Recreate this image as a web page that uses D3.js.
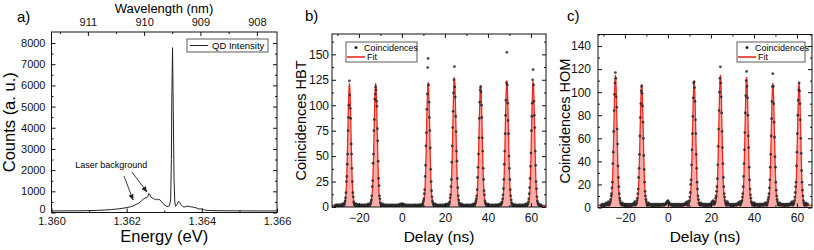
<!DOCTYPE html>
<html>
<head>
<meta charset="utf-8">
<script src="https://cdn.jsdelivr.net/npm/d3@7"></script>
<style>
  body { margin: 0; background: #fff; }
  svg { display: block; font-family: "Liberation Sans", Arial, sans-serif; }
</style>
</head>
<body>
<svg id="chart" width="814" height="250"></svg>
<script>
const hc = 1239.842; // eV*nm, for the wavelength axis

// ---- a) QD spectrum ----
const energy = [1.3600, 1.3603, 1.3606, 1.3609, 1.3612, 1.3614, 1.3616, 1.3618, 1.3620, 1.3621,
  1.3622, 1.36225, 1.3623, 1.36235, 1.3624, 1.36245, 1.3625, 1.36253, 1.36256, 1.36259,
  1.36262, 1.36265, 1.36268, 1.36272, 1.36276, 1.3628, 1.36284, 1.36288, 1.36292, 1.36296,
  1.3630, 1.36305, 1.3631, 1.36314, 1.36317, 1.36319, 1.3632, 1.36322, 1.36324, 1.36326,
  1.36328, 1.3633, 1.36334, 1.36338, 1.36341, 1.36345, 1.3635, 1.36355, 1.3636, 1.36365,
  1.3637, 1.36378, 1.36385, 1.3639, 1.36395, 1.3640, 1.36405, 1.3641, 1.3642, 1.3644,
  1.3647, 1.3650, 1.3655, 1.3660];
const counts = [75, 78, 80, 85, 100, 115, 140, 175, 230, 270,
  330, 380, 420, 480, 560, 640, 700, 680, 760, 900,
  830, 720, 680, 660, 600, 640, 600, 610, 520, 440,
  360, 300, 280, 320, 600, 2500, 5200, 7780, 4800, 1600,
  500, 290, 380, 520, 480, 360, 270, 260, 300, 290,
  270, 250, 220, 180, 160, 170, 130, 110, 95, 85,
  80, 78, 75, 74];
const energyTicks = [1.360, 1.362, 1.364, 1.366];
const energyMinor = [1.361, 1.363, 1.365];
const countTicks = [0, 1000, 2000, 3000, 4000, 5000, 6000, 7000, 8000];
const countMinor = [500, 1500, 2500, 3500, 4500, 5500, 6500, 7500];
const wavelengthTicks = [911, 910, 909, 908];
const wavelengthMinor = [911.5, 910.5, 909.5, 908.5];
const laserNote = { text: 'Laser background', e: 1.36063, c: 2100 };
const laserArrows = [[1.36193, 1720, 1.36217, 590], [1.36214, 1910, 1.36254, 970]];

// ---- b) and c) correlation histograms, 0.2 ns bins from -31 ns ----
const delayStart = -31, delayStep = 0.2, delayEnd = 65;
const peakDelays = [-24.4, -12.2, 12.2, 24.4, 36.6, 48.8, 61.0];
const delayTicks = [-20, 0, 20, 40, 60];
const delayMinor = [-30, -10, 10, 30, 50];
const hbtTicks = [0, 25, 50, 75, 100, 125, 150];
const hbtMinor = [12.5, 37.5, 62.5, 87.5, 112.5, 137.5, 162.5];
const homTicks = [0, 20, 40, 60, 80, 100, 120, 140];
const homMinor = [10, 30, 50, 70, 90, 110, 130, 150];

// counts in the 31 bins around each side peak
const hbtPeakCounts = [
  [1, 2, 3, 2, 4, 6, 9, 14, 25, 30, 42, 52, 75, 88, 100, 124, 110, 97, 87, 62, 52, 38, 25, 14, 10, 5, 3, 2, 3, 1, 2],
  [2, 1, 3, 3, 5, 7, 11, 20, 26, 43, 52, 75, 86, 106, 111, 118, 115, 104, 99, 77, 65, 45, 28, 21, 11, 8, 4, 3, 2, 1, 2],
  [1, 2, 2, 4, 6, 8, 13, 17, 30, 41, 60, 73, 96, 111, 137, 146, 120, 103, 88, 75, 58, 37, 25, 16, 10, 6, 4, 3, 2, 1, 2],
  [2, 1, 3, 3, 5, 9, 12, 20, 27, 44, 60, 78, 94, 112, 125, 138, 118, 108, 89, 74, 55, 45, 28, 19, 11, 7, 4, 2, 3, 2, 1],
  [1, 2, 3, 4, 6, 8, 11, 17, 29, 39, 52, 68, 87, 103, 115, 118, 113, 100, 88, 68, 55, 38, 27, 16, 12, 6, 4, 3, 2, 2, 1],
  [2, 2, 3, 4, 5, 8, 12, 18, 27, 42, 55, 72, 90, 105, 122, 152, 120, 102, 85, 72, 50, 38, 27, 17, 11, 7, 4, 3, 2, 1, 2],
  [1, 2, 3, 3, 5, 8, 13, 19, 28, 40, 53, 75, 89, 102, 125, 135, 120, 104, 90, 78, 55, 41, 25, 18, 10, 6, 4, 3, 2, 2, 1]
];
// counts in the bins between the peaks, in time order
const hbtGapCounts = [
  [1, 2, 1, 1, 2, 0, 1, 2, 1, 1, 2, 1, 2, 1, 1, 2, 2, 3],
  [3, 2, 2, 1, 2, 1, 1, 2, 0, 1, 1, 2, 1, 1, 2, 1, 1, 0, 2, 1, 1, 2, 1, 1, 2, 1, 2, 2, 3, 2],
  [3, 2, 2, 1, 2, 1, 1, 2, 1, 0, 1, 2, 1, 1, 1, 2, 1, 0, 1, 1, 2, 1, 1, 1, 2, 1, 1, 0, 1, 2,
   1, 1, 1, 2, 1, 1, 1, 2, 2, 1, 2, 2, 3, 2, 2, 3, 2, 2, 3, 2, 2, 2, 1, 2, 1, 1, 2, 1, 1, 0,
   1, 2, 1, 1, 1, 2, 1, 0, 1, 1, 2, 1, 1, 1, 2, 1, 1, 2, 1, 1, 0, 1, 2, 1, 1, 2, 1, 2, 1, 2, 2],
  [3, 2, 1, 2, 1, 1, 2, 1, 0, 1, 1, 2, 1, 1, 2, 1, 0, 1, 2, 1, 1, 1, 2, 1, 1, 2, 1, 2, 2, 3],
  [2, 3, 2, 1, 1, 2, 1, 1, 0, 1, 2, 1, 1, 2, 1, 1, 1, 2, 1, 0, 1, 2, 1, 1, 2, 1, 1, 2, 3, 2],
  [3, 2, 2, 1, 1, 2, 1, 0, 1, 2, 1, 1, 2, 1, 1, 0, 1, 2, 1, 1, 2, 1, 1, 2, 1, 2, 1, 2, 2, 3],
  [2, 2, 1, 2, 1, 1, 2, 1, 1, 0, 1, 2, 1, 1, 2, 1, 1, 1, 2, 1, 0, 1, 2, 1, 1, 2, 1, 2, 3, 2],
  [2, 1, 2, 1, 1]
];
const hbtFitHeights = [120, 120, 121, 126, 118, 123, 122];
const hbtFitBase = 1.5, hbtFitCentre = 1;

const homPeakCounts = [
  [2, 3, 4, 5, 7, 10, 12, 17, 22, 38, 48, 66, 84, 98, 108, 117, 112, 96, 87, 68, 55, 36, 26, 18, 12, 8, 6, 4, 3, 3, 2],
  [2, 3, 3, 4, 6, 8, 12, 16, 26, 34, 46, 62, 78, 90, 101, 105, 99, 88, 74, 60, 45, 33, 22, 14, 10, 7, 5, 3, 3, 2, 2],
  [2, 2, 3, 5, 6, 9, 13, 20, 24, 37, 50, 64, 79, 95, 108, 109, 104, 92, 76, 64, 46, 34, 22, 16, 10, 7, 4, 3, 3, 2, 2],
  [3, 3, 4, 5, 8, 10, 14, 18, 25, 37, 53, 68, 84, 100, 112, 122, 108, 96, 82, 66, 52, 38, 26, 18, 12, 9, 6, 4, 3, 2, 2],
  [2, 3, 4, 5, 6, 9, 12, 18, 27, 38, 50, 65, 82, 97, 110, 118, 105, 95, 80, 62, 52, 35, 24, 16, 11, 8, 5, 4, 3, 2, 2],
  [2, 2, 3, 5, 7, 9, 12, 17, 24, 35, 46, 62, 77, 92, 105, 116, 105, 90, 74, 61, 44, 35, 22, 15, 10, 7, 5, 3, 3, 2, 2],
  [2, 3, 3, 4, 6, 9, 13, 18, 22, 36, 48, 64, 80, 93, 102, 108, 101, 90, 76, 60, 47, 32, 22, 15, 10, 6, 4, 3, 2, 2, 2]
];
const homGapCounts = [
  [2, 1, 3, 2, 2, 1, 3, 2, 2, 3, 2, 4, 3, 2, 3, 4, 3, 5],
  [4, 3, 2, 3, 2, 2, 3, 1, 2, 3, 2, 2, 1, 3, 2, 2, 3, 2, 1, 2, 3, 2, 2, 3, 2, 3, 3, 4, 3, 5],
  [4, 3, 3, 2, 3, 2, 2, 3, 2, 1, 2, 3, 2, 2, 1, 3, 2, 2, 3, 2, 2, 3, 2, 1, 2, 3, 2, 2, 3, 2,
   2, 2, 3, 2, 3, 2, 3, 2, 3, 3, 3, 4, 4, 5, 4, 6, 5, 4, 4, 3, 3, 3, 2, 3, 2, 2, 3, 2, 1, 2,
   3, 2, 2, 3, 2, 2, 1, 3, 2, 2, 3, 2, 2, 3, 2, 1, 2, 3, 2, 2, 3, 2, 3, 2, 3, 3, 4, 3, 4, 3, 5],
  [4, 3, 3, 2, 3, 2, 2, 3, 1, 2, 3, 2, 2, 3, 2, 2, 1, 3, 2, 2, 3, 2, 3, 2, 4, 3, 5, 4, 6, 5],
  [5, 4, 3, 3, 2, 3, 2, 2, 3, 2, 1, 2, 3, 2, 2, 3, 2, 2, 3, 2, 2, 3, 2, 3, 3, 4, 3, 4, 3, 5],
  [4, 3, 4, 3, 2, 3, 2, 3, 2, 2, 3, 2, 2, 1, 3, 2, 3, 2, 2, 3, 2, 3, 2, 2, 3, 2, 3, 4, 3, 4],
  [4, 3, 3, 2, 3, 2, 2, 3, 2, 2, 3, 2, 1, 2, 3, 2, 2, 3, 2, 2, 3, 2, 3, 2, 3, 3, 4, 3, 4, 5],
  [4, 3, 3, 2, 3]
];
const homFitHeights = [113, 105, 108, 113, 111, 106, 106];
const homFitBase = 2, homFitCentre = 3;

// fitted peak profile (relative height vs offset in ns)
const fitOffsets = [-3.0, -2.4, -2.0, -1.6, -1.3, -1.0, -0.8, -0.6, -0.4, -0.2, 0, 0.2, 0.4, 0.6, 0.8, 1.0, 1.3, 1.6, 2.0, 2.4, 3.0];
const fitShape = [0, 0.015, 0.035, 0.09, 0.2, 0.39, 0.55, 0.71, 0.86, 0.96, 1, 0.96, 0.86, 0.71, 0.55, 0.39, 0.2, 0.09, 0.035, 0.015, 0];

const fitRed = '#ec2a1f';
const svg = d3.select('#chart');
const defs = svg.append('defs');
defs.append('marker')
  .attr('id', 'arrow').attr('viewBox', '0 0 10 10')
  .attr('refX', 9).attr('refY', 5)
  .attr('markerWidth', 7).attr('markerHeight', 7)
  .attr('orient', 'auto-start-reverse')
  .append('path').attr('d', 'M0,1 L10,5 L0,9 z').attr('fill', '#222');

function tickSet(g, axisGen, transform, values, size, fmt, fontSize, padding) {
  const a = g.append('g')
    .attr('transform', transform)
    .call(axisGen.tickValues(values).tickSize(size).tickSizeOuter(0)
      .tickPadding(padding === undefined ? 3 : padding).tickFormat(fmt || ''));
  a.select('.domain').remove();
  a.selectAll('line').attr('stroke', '#111');
  a.selectAll('text').attr('fill', '#111')
    .style('font-size', (fontSize || 11) + 'px')
    .style('font-family', '"Liberation Sans", Arial, sans-serif');
  return a;
}

function frame(g, x, y, xMajor, xMinor, yMajor, yMinor, xFmt, yFmt, fs, xPad, yPad) {
  const [x0, x1] = x.range();
  const [y0, y1] = y.range();
  g.append('rect')
    .attr('x', x0).attr('y', y1)
    .attr('width', x1 - x0).attr('height', y0 - y1)
    .attr('fill', 'none').attr('stroke', '#111').attr('stroke-width', 1);
  tickSet(g, d3.axisBottom(x), `translate(0,${y0})`, xMajor, -4, xFmt, fs, xPad);
  tickSet(g, d3.axisBottom(x), `translate(0,${y0})`, xMinor, -2);
  const yl = tickSet(g, d3.axisLeft(y), `translate(${x0},0)`, yMajor, -4, yFmt, fs, yPad);
  tickSet(g, d3.axisLeft(y), `translate(${x0},0)`, yMinor, -2);
  tickSet(g, d3.axisRight(y), `translate(${x1},0)`, yMajor, -4);
  tickSet(g, d3.axisRight(y), `translate(${x1},0)`, yMinor, -2);
  return yl;
}

function axisTitles(g, x, y, xTitle, yTitle, xSize, ySize, xTitleY, yTitleX) {
  const [x0, x1] = x.range();
  const [y0, y1] = y.range();
  g.append('text')
    .attr('x', (x0 + x1) / 2).attr('y', xTitleY)
    .attr('text-anchor', 'middle')
    .style('font-size', xSize + 'px')
    .text(xTitle);
  g.append('text')
    .attr('transform', `translate(${yTitleX},${(y0 + y1) / 2}) rotate(-90)`)
    .attr('text-anchor', 'middle').attr('dy', '0.35em')
    .style('font-size', ySize + 'px')
    .text(yTitle);
}

// ---------- panel a ----------
function drawSpectrum() {
  const g = svg.append('g');
  const x = d3.scaleLinear().domain([1.360, 1.366]).range([51.5, 277]);
  const y = d3.scaleLinear().domain([0, 8520]).range([212.5, 32]);

  defs.append('clipPath').attr('id', 'clipA')
    .append('rect').attr('x', 51.5).attr('y', 32).attr('width', 225.5).attr('height', 180.5);

  const line = d3.line().x((d, i) => x(energy[i])).y(d => y(d));
  g.append('path')
    .datum(counts)
    .attr('clip-path', 'url(#clipA)')
    .attr('d', line)
    .attr('fill', 'none').attr('stroke', '#222').attr('stroke-width', 1);

  const yl = frame(g, x, y, energyTicks, energyMinor, countTicks, countMinor,
    d3.format('.3f'), d3.format('d'), 11, 5, 6);
  // the zero label sits a touch higher so it clears the 1.360 label
  yl.selectAll('.tick text').filter(d => d === 0).attr('dy', '0em');

  // top wavelength axis
  tickSet(g, d3.axisTop(x), 'translate(0,32)', wavelengthTicks.map(w => hc / w), -4,
    (d, i) => wavelengthTicks[i], 11, 6);
  tickSet(g, d3.axisTop(x), 'translate(0,32)', wavelengthMinor.map(w => hc / w), -2);

  axisTitles(g, x, y, 'Energy (eV)', 'Counts (a. u.)', 16.5, 16.5, 242, 9);
  g.append('text')
    .attr('x', 164).attr('y', 13)
    .attr('text-anchor', 'middle')
    .style('font-size', '13px')
    .text('Wavelength (nm)');
  g.append('text').attr('x', 17).attr('y', 22).style('font-size', '15px').text('a)');

  // legend
  const lg = g.append('g').attr('transform', 'translate(187,39)');
  lg.append('rect').attr('width', 81).attr('height', 13)
    .attr('fill', '#fff').attr('stroke', '#777').attr('stroke-width', 1.2);
  lg.append('line').attr('x1', 3).attr('x2', 21).attr('y1', 6.5).attr('y2', 6.5)
    .attr('stroke', '#222').attr('stroke-width', 1);
  lg.append('text').attr('x', 25).attr('y', 10).style('font-size', '9.5px').text('QD Intensity');

  // annotation
  g.append('text')
    .attr('x', x(laserNote.e)).attr('y', y(laserNote.c))
    .style('font-size', '9px')
    .text(laserNote.text);
  laserArrows.forEach(a => {
    g.append('line')
      .attr('x1', x(a[0])).attr('y1', y(a[1]))
      .attr('x2', x(a[2])).attr('y2', y(a[3]))
      .attr('stroke', '#222').attr('stroke-width', 0.9)
      .attr('marker-end', 'url(#arrow)');
  });
}

// ---------- panels b and c ----------
function histogramPoints(peakCounts, gapCounts) {
  const centres = peakDelays.map(t => Math.round((t - delayStart) / delayStep));
  const nBins = Math.round((delayEnd - delayStart) / delayStep) + 1;
  const gaps = gapCounts.flat();
  const pts = [];
  let gi = 0;
  for (let k = 0; k < nBins; k++) {
    const p = centres.findIndex(c => Math.abs(k - c) <= 15);
    const v = p >= 0 ? peakCounts[p][k - centres[p] + 15] : gaps[gi++];
    if (v === undefined) continue;
    pts.push({ t: delayStart + k * delayStep, c: v });
  }
  return pts;
}

function fitPoints(heights, base, centre, domain) {
  const peaks = peakDelays.map((t, i) => ({ t, h: heights[i] }));
  peaks.push({ t: 0, h: centre });
  peaks.sort((a, b) => a.t - b.t);
  const pts = [{ t: domain[0], c: base }];
  peaks.forEach(p => fitOffsets.forEach((o, j) => pts.push({ t: p.t + o, c: base + p.h * fitShape[j] })));
  pts.push({ t: domain[1], c: base });
  return pts;
}

function drawCorrelation(cfg) {
  const g = svg.append('g');
  const x = d3.scaleLinear().domain([-32.5, 67]).range([cfg.left, cfg.left + 214]);
  const y = d3.scaleLinear().domain([0, cfg.yMax]).range([cfg.bottom, cfg.top]);
  const clipId = 'clip' + cfg.tag;
  defs.append('clipPath').attr('id', clipId)
    .append('rect').attr('x', cfg.left).attr('y', cfg.top)
    .attr('width', 214).attr('height', cfg.bottom - cfg.top);

  const plot = g.append('g').attr('clip-path', `url(#${clipId})`);
  const fit = fitPoints(cfg.fitHeights, cfg.fitBase, cfg.fitCentre, x.domain());
  plot.append('path')
    .datum(fit)
    .attr('d', d3.area().x(d => x(d.t)).y0(y(0)).y1(d => y(d.c)))
    .attr('fill', 'rgba(240,60,50,0.42)');
  plot.append('path')
    .datum(fit)
    .attr('d', d3.line().x(d => x(d.t)).y(d => y(d.c)))
    .attr('fill', 'none').attr('stroke', fitRed).attr('stroke-width', 1.3);

  plot.selectAll('circle.pt')
    .data(histogramPoints(cfg.peakCounts, cfg.gapCounts))
    .enter().append('circle')
    .attr('class', 'pt')
    .attr('cx', d => x(d.t)).attr('cy', d => y(d.c))
    .attr('r', 1.4)
    .attr('fill', '#2a2a2a').attr('fill-opacity', 0.85);

  frame(g, x, y, delayTicks, delayMinor, cfg.yTicks, cfg.yMinor,
    d3.format('d'), d3.format('d'), 12, 6, cfg.yPad);
  tickSet(g, d3.axisTop(x), `translate(0,${cfg.top})`, delayTicks, -4);
  tickSet(g, d3.axisTop(x), `translate(0,${cfg.top})`, delayMinor, -2);

  axisTitles(g, x, y, 'Delay (ns)', cfg.yTitle, 15.5, 14.5, 242, cfg.yTitleX);
  g.append('text').attr('x', cfg.labelX).attr('y', 21).style('font-size', '15px').text(cfg.tag + ')');

  // legend
  const lg = g.append('g').attr('transform', `translate(${cfg.legendX},42)`);
  lg.append('rect').attr('width', cfg.legendW).attr('height', 20)
    .attr('fill', '#fff').attr('stroke', '#777').attr('stroke-width', 1.2);
  lg.append('circle').attr('cx', 10).attr('cy', 5.5).attr('r', 1.5).attr('fill', '#222');
  lg.append('text').attr('x', 18).attr('y', 8.5).style('font-size', '9px').text('Coincidences');
  lg.append('line').attr('x1', 1).attr('x2', 19).attr('y1', 15).attr('y2', 15)
    .attr('stroke', fitRed).attr('stroke-width', 1.6);
  lg.append('text').attr('x', 21).attr('y', 18).style('font-size', '9px').text('Fit');
}

drawSpectrum();
drawCorrelation({
  tag: 'b', left: 332, top: 34, bottom: 207, yMax: 170, labelX: 305, yPad: 3,
  yTicks: hbtTicks, yMinor: hbtMinor, yTitle: 'Coincidences HBT', yTitleX: 301,
  peakCounts: hbtPeakCounts, gapCounts: hbtGapCounts,
  fitHeights: hbtFitHeights, fitBase: hbtFitBase, fitCentre: hbtFitCentre,
  legendX: 346, legendW: 71
});
drawCorrelation({
  tag: 'c', left: 598, top: 34.5, bottom: 207.5, yMax: 150, labelX: 567, yPad: 7,
  yTicks: homTicks, yMinor: homMinor, yTitle: 'Coincidences HOM', yTitleX: 565,
  peakCounts: homPeakCounts, gapCounts: homGapCounts,
  fitHeights: homFitHeights, fitBase: homFitBase, fitCentre: homFitCentre,
  legendX: 737, legendW: 68
});
</script>
</body>
</html>
